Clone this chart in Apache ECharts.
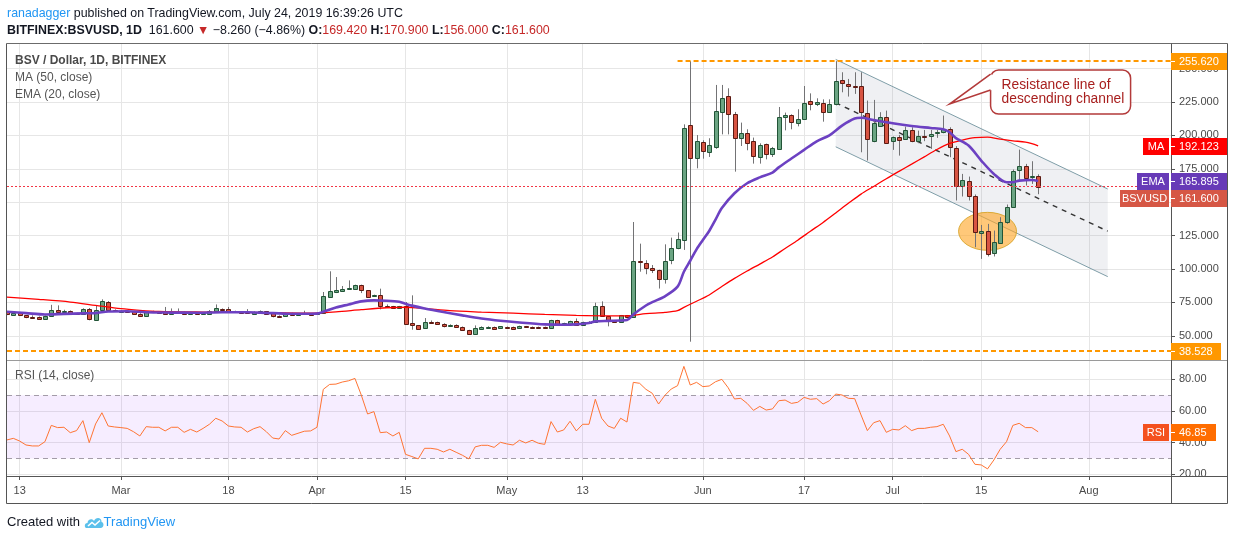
<!DOCTYPE html>
<html>
<head>
<meta charset="utf-8">
<title>BSV / Dollar, 1D, BITFINEX</title>
<script src="https://cdn.jsdelivr.net/npm/echarts@6.0.0/dist/echarts.min.js"></script>
<style>
  html, body { margin:0; padding:0; background:#ffffff; }
  body { width:1234px; height:540px; position:relative; overflow:hidden; font-family:"Liberation Sans", Arial, sans-serif; }
  #chart { position:absolute; left:0; top:0; width:1234px; height:540px; }
  .hl { position:absolute; left:7px; font-size:12.4px; line-height:16px; color:#131722; white-space:nowrap; }
  .rd { color:#c62828; }
  .foot { position:absolute; left:7px; top:514px; height:16px; font-size:13px; line-height:16px; color:#131722; white-space:nowrap; display:flex; align-items:center; }
</style>
</head>
<body>
<div id="chart"></div>
<div class="hl" style="top:5px"><span style="color:#2196f3">ranadagger</span> published on TradingView.com, July 24, 2019 16:39:26 UTC</div>
<div class="hl" style="top:22px"><b>BITFINEX:BSVUSD, 1D</b>&nbsp; 161.600 <span class="rd">&#9660;</span> &minus;8.260 (&minus;4.86%) <b>O:</b><span class="rd">169.420</span> <b>H:</b><span class="rd">170.900</span> <b>L:</b><span class="rd">156.000</span> <b>C:</b><span class="rd">161.600</span></div>
<div class="foot">Created with&nbsp;<svg width="20" height="14" viewBox="0 0 20 14"><path d="M3 13 C0 13 0 8 3.5 8 C3.5 4 8.5 3 10 6 C11.5 1.5 18 2 17.5 7 C20.5 7.5 20 13 16.5 13 Z" fill="#5bc0eb"/><polyline points="4,11 8,7.5 11,10 16,5.5" fill="none" stroke="#ffffff" stroke-width="1.6"/></svg><span style="color:#2196f3">TradingView</span></div>
<script>
// ---------------- data ----------------
const startDate = '2019-02-11';
const dayCount = 185; // Feb 11 .. Aug 14 (future space on the right)

const tickDates  = ['2019-02-13','2019-03-01','2019-03-18','2019-04-01','2019-04-15','2019-05-01','2019-05-13','2019-06-01','2019-06-17','2019-07-01','2019-07-15','2019-08-01'];
const tickLabels = ['13','Mar','18','Apr','15','May','13','Jun','17','Jul','15','Aug'];
const priceTicks = [50, 75, 100, 125, 150, 175, 200, 225, 250];
const rsiTicks   = [20, 40, 60, 80];

// daily candles: [open, close, low, high]
const ohlc = [
 [67.8,66.1,65.5,68.5],[65.8,67.3,65.0,68.0],[67.1,65.3,64.8,67.5],[65.3,63.8,63.2,65.5],[64.3,64.0,63.5,65.3],
 [64.1,62.8,62.3,64.5],[62.8,64.8,62.5,65.2],[64.6,69.1,64.2,73.2],[69.6,68.1,67.8,72.8],[68.3,68.6,67.5,69.5],
 [68.6,66.8,66.5,69.0],[66.9,66.6,66.3,67.3],[66.6,70.3,66.3,70.6],[70.3,62.3,61.6,70.8],[62.0,69.1,61.5,72.8],
 [69.1,75.8,68.8,77.3],[75.6,69.1,68.5,76.0],[69.3,68.3,68.0,69.8],[68.5,68.6,68.1,69.3],[68.4,68.2,67.8,68.8],
 [68.3,66.1,65.8,68.8],[66.6,64.6,64.2,66.9],[64.6,68.3,64.3,68.6],[68.3,68.1,67.8,68.8],[68.0,67.8,67.4,68.4],
 [68.3,66.1,65.8,71.6],[66.1,67.8,65.8,70.5],[67.9,67.7,67.3,70.5],[67.8,66.1,65.8,68.2],[66.1,67.3,65.9,67.6],
 [67.3,66.1,65.9,67.6],[66.1,67.3,65.8,67.6],[66.6,68.3,66.3,69.3],[68.3,70.8,68.0,73.5],[69.8,69.6,69.2,70.5],
 [69.8,68.3,68.0,71.6],[68.4,68.2,67.9,68.8],[68.0,67.7,67.4,68.3],[67.9,67.7,66.6,70.0],[66.6,67.8,66.3,68.3],
 [67.1,68.3,66.9,69.0],[68.3,66.6,66.3,68.6],[67.1,64.6,63.8,67.3],[64.8,64.6,63.5,65.3],[64.6,67.1,64.3,67.3],
 [67.1,65.3,65.0,67.3],[65.8,66.6,65.5,66.9],[66.9,67.1,66.6,68.8],[66.7,66.5,66.2,67.0],[66.1,67.1,65.9,67.4],
 [66.8,79.5,66.5,82.8],[79.3,83.3,78.5,98.3],[82.8,84.0,82.0,94.0],[83.3,85.3,82.8,87.3],[85.6,85.8,85.3,91.5],
 [85.3,87.8,84.8,88.3],[87.8,84.0,82.0,88.3],[84.0,79.0,78.5,84.3],[79.8,80.3,79.3,80.8],[80.3,72.0,69.8,85.3],
 [72.4,72.0,71.5,73.5],[72.0,70.8,70.3,72.4],[70.8,72.0,70.5,72.4],[72.0,59.1,58.5,75.3],[59.6,57.8,54.6,80.3],
 [57.8,55.3,54.8,58.1],[55.8,60.3,55.3,63.3],[60.4,60.1,59.5,61.5],[60.3,59.1,58.8,60.6],[59.1,57.1,56.3,59.4],
 [57.1,58.3,56.8,58.6],[58.3,56.6,56.3,58.6],[56.6,54.6,53.8,57.0],[54.1,51.6,50.8,54.5],[51.6,55.8,51.3,57.8],
 [55.3,56.6,55.0,57.1],[56.5,56.7,56.0,57.1],[56.6,55.3,55.0,56.9],[55.8,57.1,55.5,57.3],[56.7,56.5,56.2,57.0],
 [56.6,55.3,55.0,56.9],[55.8,57.3,55.5,57.6],[57.1,56.3,56.0,57.4],[56.6,56.5,56.2,57.0],[56.6,55.8,55.5,56.9],
 [56.6,55.8,55.5,56.9],[55.8,61.6,55.5,62.0],[61.6,57.8,57.5,62.0],[58.9,59.3,58.6,59.8],[58.6,60.8,58.3,61.3],
 [60.8,57.8,57.5,63.0],[57.8,60.3,57.5,60.6],[60.2,60.5,59.8,61.0],[60.3,72.0,60.0,74.8],[72.3,64.8,64.3,75.8],
 [64.6,61.6,57.1,64.8],[61.6,60.3,60.0,61.8],[60.3,65.3,60.0,65.6],[65.3,64.1,63.8,65.6],[64.1,106.1,63.7,135.2],
 [105.9,105.6,98.0,119.0],[104.3,100.6,96.1,106.6],[101.0,99.0,97.0,103.0],[99.3,92.4,85.4,99.5],[92.4,106.1,89.1,118.5],
 [106.6,116.1,103.6,123.5],[116.1,122.3,114.8,127.3],[121.5,205.8,114.3,208.3],[207.6,182.9,45.6,255.6],[182.9,195.9,175.4,200.3],
 [194.9,188.4,182.6,196.4],[187.9,192.6,183.9,197.9],[191.6,218.1,190.0,237.8],[217.8,228.3,200.8,237.8],[229.3,215.8,200.8,235.3],
 [215.8,197.9,172.9,217.6],[197.9,201.8,192.1,209.6],[201.8,194.1,188.9,204.6],[195.6,184.4,178.9,198.4],[183.9,192.6,178.9,194.1],
 [193.4,185.9,182.1,193.9],[185.9,190.4,183.9,191.4],[189.6,213.6,189.4,221.3],[213.8,215.1,203.8,217.1],[215.1,210.1,204.6,215.8],
 [209.1,212.1,206.8,219.6],[212.1,224.5,212.0,237.0],[225.8,223.3,218.8,231.5],[223.3,225.0,222.0,227.8],[224.5,217.8,210.3,227.0],
 [217.8,223.3,217.1,227.0],[223.3,241.0,222.5,255.6],[241.5,239.3,232.3,247.3],[238.6,236.8,229.1,242.3],[237.3,237.0,231.1,247.3],
 [236.8,217.9,187.4,247.3],[216.9,197.4,181.2,226.1],[195.7,209.4,194.9,226.6],[207.4,213.6,206.6,217.4],[213.6,194.2,193.7,218.6],
 [195.7,198.7,189.2,199.2],[198.7,196.7,184.9,200.4],[197.4,204.1,196.7,206.6],[204.1,196.2,194.9,206.1],[195.7,199.7,194.2,203.6],
 [199.9,199.7,195.7,204.1],[199.7,201.1,189.9,204.1],[201.6,202.6,198.2,204.1],[202.4,204.9,201.6,214.9],[204.9,191.2,183.7,206.1],
 [190.7,162.5,151.3,192.0],[162.5,166.7,154.3,171.2],[166.2,154.3,151.3,169.2],[154.8,127.6,116.3,155.8],[127.3,128.8,107.6,133.0],
 [128.8,110.9,109.4,133.8],[111.9,120.1,109.4,128.8],[119.6,135.1,118.8,138.8],[135.1,146.8,133.8,148.3],[146.8,173.2,146.3,174.5],
 [174.2,177.4,166.7,189.4],[176.9,168.2,162.5,178.7],[169.2,169.86,163.7,180.7],[169.42,161.6,156.0,170.9]
];

// MA (50, close) read at sampled days: [dayIndex, value]
const maPoints = [
 [0,79.0],[5,77.3],[10,75.3],[14,72.8],[18,70.3],[21,69.1],[24,68.3],[31,67.8],[42,67.3],[48,67.0],
 [52,68.0],[56,69.6],[60,71.0],[63,71.4],[66,70.5],[70,68.8],[75,67.8],[80,67.0],[85,66.0],[90,65.3],
 [95,65.0],[98,65.0],[101,66.6],[104,67.5],[106,68.8],[107,71.3],[109,75.9],[111,80.6],[113,86.9],[115,93.0],
 [117,98.5],[119,103.7],[121,109.0],[123,115.4],[125,121.6],[127,128.3],[129,134.9],[131,142.0],[133,149.2],[135,156.1],
 [137,161.8],[139,167.6],[141,173.1],[143,178.5],[145,184.0],[147,189.5],[149,194.0],[151,196.5],[153,198.3],[155,198.7],
 [157,197.2],[159,196.0],[161,195.0],[162,193.8],[163,192.123]
];
// EMA (20, close) read at sampled days
const emaPoints = [
 [0,68.0],[3,67.0],[6,66.0],[9,66.4],[12,66.8],[14,67.0],[16,68.2],[19,68.4],[22,67.6],[26,67.4],
 [30,67.3],[34,67.7],[38,67.6],[42,67.0],[45,66.5],[48,66.5],[49,66.6],[50,68.0],[52,71.2],[54,73.5],
 [56,75.8],[58,76.5],[60,76.3],[62,75.5],[63,74.0],[64,72.6],[66,70.5],[69,67.8],[72,65.3],[75,63.0],
 [78,61.3],[81,60.0],[85,58.6],[88,58.3],[90,58.6],[92,59.6],[93,60.8],[95,61.2],[97,61.5],[98,61.8],
 [99,66.0],[101,72.7],[102,75.2],[104,79.6],[106,86.8],[107,98.0],[108,106.2],[109,114.7],[110,121.7],[111,128.5],
 [112,137.0],[113,145.7],[115,156.7],[117,164.2],[119,168.6],[121,172.2],[122,176.1],[124,182.7],[126,189.2],[128,195.6],
 [130,200.1],[132,207.4],[134,212.7],[135,213.2],[137,211.5],[140,209.1],[143,207.1],[146,205.6],[148,204.6],[149,202.4],
 [150,198.0],[152,192.4],[154,181.2],[156,171.2],[158,165.0],[159,165.0],[160,166.2],[162,166.7],[163,165.895]
];
// RSI (14, close) per day
const rsiValues = [
 41.7,42.7,41.0,38.5,37.9,37.9,40.6,50.9,49.5,49.7, 46.3,47.6,53.9,40.0,51.8,58.9,50.5,49.9,49.5,49.0,
 46.9,44.2,50.1,49.7,49.7,47.4,49.7,49.7,46.5,48.4, 46.7,49.0,51.6,55.4,53.7,50.5,49.9,49.7,46.7,48.8,
 50.1,46.9,42.9,42.3,47.6,44.6,45.9,47.2,47.4,49.7, 73.7,76.8,77.0,78.3,79.1,80.6,70.1,58.1,59.6,46.3,
 46.7,44.2,46.5,32.6,31.2,29.7,36.4,36.4,35.8,34.1, 35.8,33.9,32.0,29.7,37.3,38.3,38.3,37.0,40.2,39.2,
 38.5,41.5,39.8,41.5,39.6,38.9,53.3,46.7,48.0,53.5, 47.4,51.6,51.6,67.4,55.4,50.5,49.0,55.4,53.0,78.1,
 77.5,73.7,71.2,64.4,69.9,73.9,76.0,88.2,76.4,78.1, 75.4,75.8,78.5,80.0,74.7,67.6,68.0,64.8,60.4,62.9,
 60.6,61.3,66.5,66.9,64.8,65.5,68.6,67.4,67.8,64.4, 66.5,70.7,70.1,68.0,67.8,57.5,47.6,52.6,53.9,46.5,
 48.4,48.0,50.7,47.6,49.0,49.0,49.7,50.1,51.6,44.2, 34.3,35.8,32.6,26.3,25.9,23.4,29.0,35.8,40.6,50.9,
 52.2,49.5,49.5,46.85
];

// drawn annotations (anchored in data space: [dayIndex, price])
const channelUpper = [[131, 256.9], [174, 159.9]];
const channelLower = [[131, 191.5], [174, 94.3]];
const channelMid   = [[131, 224.4], [174, 128.3]];
const ellipseAt    = [155, 128.2];
const calloutTip   = [149, 223.5];
const highLevel = 255.62, highFrom = 106;
const lowLevel  = 38.528;
const lastClose = 161.6, lastMA = 192.123, lastEMA = 165.895, lastRSI = 46.85;

// ---------------- build ----------------
const dates = [];
{
  const t0 = Date.parse(startDate + 'T00:00:00Z');
  for (let i = 0; i < dayCount; i++) dates.push(new Date(t0 + i * 86400000).toISOString().slice(0, 10));
}
const tickMap = new Map(tickDates.map((d, i) => [d, tickLabels[i]]));
const isTick = (idx, val) => tickMap.has(val);
const FONT = '"Liberation Sans", Arial, sans-serif';

const chart = echarts.init(document.getElementById('chart'), null, { renderer: 'canvas' });

function renderCandle(params, api) {
  const xi = api.value(0);
  const o = api.value(1), c = api.value(2), l = api.value(3), h = api.value(4);
  const pO = api.coord([xi, o]), pC = api.coord([xi, c]);
  const pL = api.coord([xi, l]), pH = api.coord([xi, h]);
  const xc = Math.round(pO[0]) + 0.5;
  const up = c >= o;
  const yTop = Math.round(Math.min(pO[1], pC[1])) + 0.5;
  const yBot = Math.max(yTop + 1, Math.round(Math.max(pO[1], pC[1])) + 0.5);
  return {
    type: 'group', silent: true,
    children: [
      { type: 'line', shape: { x1: xc, y1: pH[1], x2: xc, y2: pL[1] }, style: { stroke: '#737375', lineWidth: 1 } },
      { type: 'rect', shape: { x: xc - 2, y: yTop, width: 4, height: yBot - yTop },
        style: { fill: up ? '#6ba583' : '#d75442', stroke: up ? '#225437' : '#5b1a13', lineWidth: 1 } }
    ]
  };
}

function renderDrawings(params, api) {
  const c = p => api.coord([p[0], p[1]]);
  const u0 = c(channelUpper[0]), u1 = c(channelUpper[1]);
  const l0 = c(channelLower[0]), l1 = c(channelLower[1]);
  const m0 = c(channelMid[0]), m1 = c(channelMid[1]);
  const e = c(ellipseAt);
  return {
    type: 'group', silent: true,
    children: [
      { type: 'polygon', shape: { points: [u0, u1, l1, l0] }, style: { fill: 'rgba(120,134,156,0.12)' } },
      { type: 'line', shape: { x1: u0[0], y1: u0[1], x2: u1[0], y2: u1[1] }, style: { stroke: '#7f9ea8', lineWidth: 1 } },
      { type: 'line', shape: { x1: l0[0], y1: l0[1], x2: l1[0], y2: l1[1] }, style: { stroke: '#7f9ea8', lineWidth: 1 } },
      { type: 'line', shape: { x1: m0[0], y1: m0[1], x2: m1[0], y2: m1[1] }, style: { stroke: '#333333', lineWidth: 1.4, lineDash: [5, 5] } },
      { type: 'circle', x: e[0], y: e[1], scaleY: 19 / 29, shape: { cx: 0, cy: 0, r: 29 },
        style: { fill: 'rgba(255,167,38,0.62)', stroke: '#d4a020', lineWidth: 1, strokeNoScale: true } }
    ]
  };
}

const noLabel = { show: false };
const option = {
  animation: false,
  backgroundColor: '#ffffff',
  textStyle: { fontFamily: FONT },
  grid: [
    { left: 7, top: 43, width: 1164, height: 317, outerBoundsMode: 'none', containLabel: false },
    { left: 7, top: 361, width: 1164, height: 115, outerBoundsMode: 'none', containLabel: false }
  ],
  xAxis: [
    { type: 'category', gridIndex: 0, data: dates, boundaryGap: false,
      axisLine: { show: false }, axisTick: { show: false }, axisLabel: { show: false },
      splitLine: { show: true, interval: isTick, lineStyle: { color: '#e6e6e6', width: 1 } } },
    { type: 'category', gridIndex: 1, data: dates, boundaryGap: false,
      axisLine: { show: false },
      axisTick: { show: true, interval: isTick, length: 4, lineStyle: { color: '#555555' } },
      axisLabel: { show: true, interval: isTick, formatter: v => tickMap.get(v) || '', color: '#4a4a4a', fontSize: 11, fontFamily: FONT, margin: 9 },
      splitLine: { show: true, interval: isTick, lineStyle: { color: '#e6e6e6', width: 1 } } }
  ],
  yAxis: [
    { type: 'value', gridIndex: 0, position: 'right', min: 31.9, max: 269.2,
      splitLine: { show: false }, axisLine: { show: false },
      axisTick: { show: true, customValues: priceTicks, length: 4, lineStyle: { color: '#555555' } },
      axisLabel: { show: true, customValues: priceTicks, formatter: v => Number(v).toFixed(3), color: '#4a4a4a', fontSize: 11, fontFamily: FONT, margin: 8 } },
    { type: 'value', gridIndex: 1, position: 'right', min: 18.9, max: 91.6,
      splitLine: { show: false }, axisLine: { show: false },
      axisTick: { show: true, customValues: rsiTicks, length: 4, lineStyle: { color: '#555555' } },
      axisLabel: { show: true, customValues: rsiTicks, formatter: v => Number(v).toFixed(2), color: '#4a4a4a', fontSize: 11, fontFamily: FONT, margin: 8 } }
  ],
  series: [
    { name: 'priceGrid', type: 'line', xAxisIndex: 0, yAxisIndex: 0, data: [], silent: true, z: 0,
      markLine: { silent: true, z: 0, symbol: ['none', 'none'], label: noLabel, animation: false,
        lineStyle: { color: '#e6e6e6', width: 1, type: 'solid' },
        data: priceTicks.map(v => ({ yAxis: v })) } },
    { name: 'rsiGrid', type: 'line', xAxisIndex: 1, yAxisIndex: 1, data: [], silent: true, z: 0,
      markLine: { silent: true, z: 0, symbol: ['none', 'none'], label: noLabel, animation: false,
        lineStyle: { color: '#e6e6e6', width: 1, type: 'solid' },
        data: rsiTicks.map(v => ({ yAxis: v })) } },
    { name: 'drawings', type: 'custom', xAxisIndex: 0, yAxisIndex: 0, z: 2, silent: true, clip: true,
      data: [[0, 0]], renderItem: renderDrawings },
    { name: 'BSVUSD', type: 'custom', xAxisIndex: 0, yAxisIndex: 0, z: 3, silent: true, clip: true,
      dimensions: ['date', 'open', 'close', 'low', 'high'],
      encode: { x: 'date', y: ['open', 'close', 'low', 'high'] },
      data: ohlc.map((r, i) => [dates[i], r[0], r[1], r[2], r[3]]),
      renderItem: renderCandle },
    { name: 'MA (50, close)', type: 'line', xAxisIndex: 0, yAxisIndex: 0, z: 4, silent: true,
      data: maPoints.map(p => [dates[p[0]], p[1]]), smooth: 0.3, symbol: 'none',
      lineStyle: { color: '#ff0000', width: 1.3 } },
    { name: 'EMA (20, close)', type: 'line', xAxisIndex: 0, yAxisIndex: 0, z: 4, silent: true,
      data: emaPoints.map(p => [dates[p[0]], p[1]]), smooth: 0.3, symbol: 'none',
      lineStyle: { color: '#6c41c2', width: 2.6 } },
    { name: 'levels', type: 'line', xAxisIndex: 0, yAxisIndex: 0, data: [], silent: true, z: 5,
      markLine: { silent: true, z: 5, symbol: ['none', 'none'], label: noLabel, animation: false,
        data: [
          [ { coord: [dates[highFrom], highLevel], lineStyle: { color: '#ff9800', width: 2, type: [5, 3] } },
            { coord: [dates[dates.length - 1], highLevel] } ],
          { yAxis: lowLevel, lineStyle: { color: '#ff9800', width: 2, type: [5, 3] } },
          { yAxis: lastClose, lineStyle: { color: '#f23645', width: 1, type: [2, 2] } }
        ] } },
    { name: 'RSI (14, close)', type: 'line', xAxisIndex: 1, yAxisIndex: 1, z: 4, silent: true,
      data: rsiValues.map((v, i) => [dates[i], v]), symbol: 'none',
      lineStyle: { color: '#ff7433', width: 1 },
      markArea: { silent: true, z: 1, itemStyle: { color: 'rgba(153,51,255,0.09)' },
        data: [[{ yAxis: 30 }, { yAxis: 70 }]] },
      markLine: { silent: true, z: 2, symbol: ['none', 'none'], label: noLabel, animation: false,
        lineStyle: { color: '#a39ca8', width: 1, type: [5, 4] },
        data: [{ yAxis: 70 }, { yAxis: 30 }] } }
  ]
};
chart.setOption(option);

// ---------------- frame, pane titles, axis tags, callout ----------------
const yP = v => chart.convertToPixel({ yAxisIndex: 0 }, v);
const yR = v => chart.convertToPixel({ yAxisIndex: 1 }, v);
const g = [];
const Z = 100;
function hline(y, x1, x2, color) { g.push({ type: 'line', z: Z, silent: true, shape: { x1: x1, y1: y, x2: x2, y2: y }, style: { stroke: color, lineWidth: 1 } }); }
function vline(x, y1, y2, color) { g.push({ type: 'line', z: Z, silent: true, shape: { x1: x, y1: y1, x2: x, y2: y2 }, style: { stroke: color, lineWidth: 1 } }); }
function text(x, y, s, font, fill, align) { g.push({ type: 'text', z: Z + 2, silent: true, x: x, y: y, style: { text: s, font: font, fill: fill, textAlign: align || 'left', textVerticalAlign: 'middle' } }); }
function valueTag(y, s, bg, w) {
  const yy = Math.round(y);
  g.push({ type: 'rect', z: Z + 1, silent: true, shape: { x: 1171, y: yy - 8, width: w, height: 17 }, style: { fill: bg } });
  g.push({ type: 'line', z: Z + 2, silent: true, shape: { x1: 1171, y1: yy + 0.5, x2: 1175, y2: yy + 0.5 }, style: { stroke: '#ffffff', lineWidth: 1 } });
  text(1179, yy + 0.5, s, '11px ' + FONT, '#ffffff');
}
function nameTag(y, s, bg, x0) {
  const yy = Math.round(y);
  g.push({ type: 'rect', z: Z + 1, silent: true, shape: { x: x0, y: yy - 8, width: 1169 - x0, height: 17 }, style: { fill: bg } });
  text((x0 + 1169) / 2, yy + 0.5, s, '11px ' + FONT, '#ffffff', 'center');
}

// frame
hline(43.5, 6.5, 1227.5, '#6b6b6b');
hline(360.5, 6.5, 1227.5, '#9a9a9a');
hline(476.5, 6.5, 1227.5, '#555555');
hline(503.5, 6.5, 1227.5, '#555555');
vline(6.5, 43.5, 503.5, '#555555');
vline(1171.5, 43.5, 503.5, '#555555');
vline(1227.5, 43.5, 503.5, '#555555');

// pane titles
text(15, 61, 'BSV / Dollar, 1D, BITFINEX', 'bold 12px ' + FONT, '#4a4a4a');
text(15, 78, 'MA (50, close)', '12px ' + FONT, '#555555');
text(15, 95, 'EMA (20, close)', '12px ' + FONT, '#555555');
text(15, 376, 'RSI (14, close)', '12px ' + FONT, '#555555');

// axis tags
const yEma = yP(lastEMA);
valueTag(yP(highLevel), highLevel.toFixed(3), '#ff9800', 56);
valueTag(yP(lowLevel), lowLevel.toFixed(3), '#ff9800', 50);
valueTag(yP(lastMA), lastMA.toFixed(3), '#ff0000', 56);
nameTag(yP(lastMA), 'MA', '#ff0000', 1143);
valueTag(yEma, lastEMA.toFixed(3), '#673ab7', 56);
nameTag(yEma, 'EMA', '#673ab7', 1137);
valueTag(yEma + 17, lastClose.toFixed(3), '#d65745', 56);
nameTag(yEma + 17, 'BSVUSD', '#d65745', 1120);
valueTag(yR(lastRSI), lastRSI.toFixed(2), '#ff6d00', 45);
nameTag(yR(lastRSI), 'RSI', '#f4511e', 1143);

// callout
const tip = chart.convertToPixel({ gridIndex: 0 }, [dates[calloutTip[0]], calloutTip[1]]);
const bx = tip[0] + 41, by = tip[1] - 34, bw = 140, bh = 44;
g.push({ type: 'rect', z: Z, silent: true, shape: { x: bx, y: by, width: bw, height: bh, r: 8 }, style: { fill: '#ffffff', stroke: '#b33a3a', lineWidth: 1.5 } });
g.push({ type: 'rect', z: Z, silent: true, shape: { x: bx - 1.5, y: by + 5, width: 3, height: 15 }, style: { fill: '#ffffff' } });
g.push({ type: 'polygon', z: Z, silent: true, shape: { points: [[bx + 1, by + 4], tip, [bx + 1, by + 20]] }, style: { fill: '#ffffff' } });
g.push({ type: 'polyline', z: Z, silent: true, shape: { points: [[bx, by + 4], tip, [bx, by + 20]] }, style: { stroke: '#b33a3a', lineWidth: 1.5, fill: null } });
text(bx + 11, by + 15.5, 'Resistance line of', '13.8px ' + FONT, '#a8201f');
text(bx + 11, by + 29, 'descending channel', '13.8px ' + FONT, '#a8201f');

chart.setOption({ graphic: { elements: g } });
</script>
</body>
</html>
